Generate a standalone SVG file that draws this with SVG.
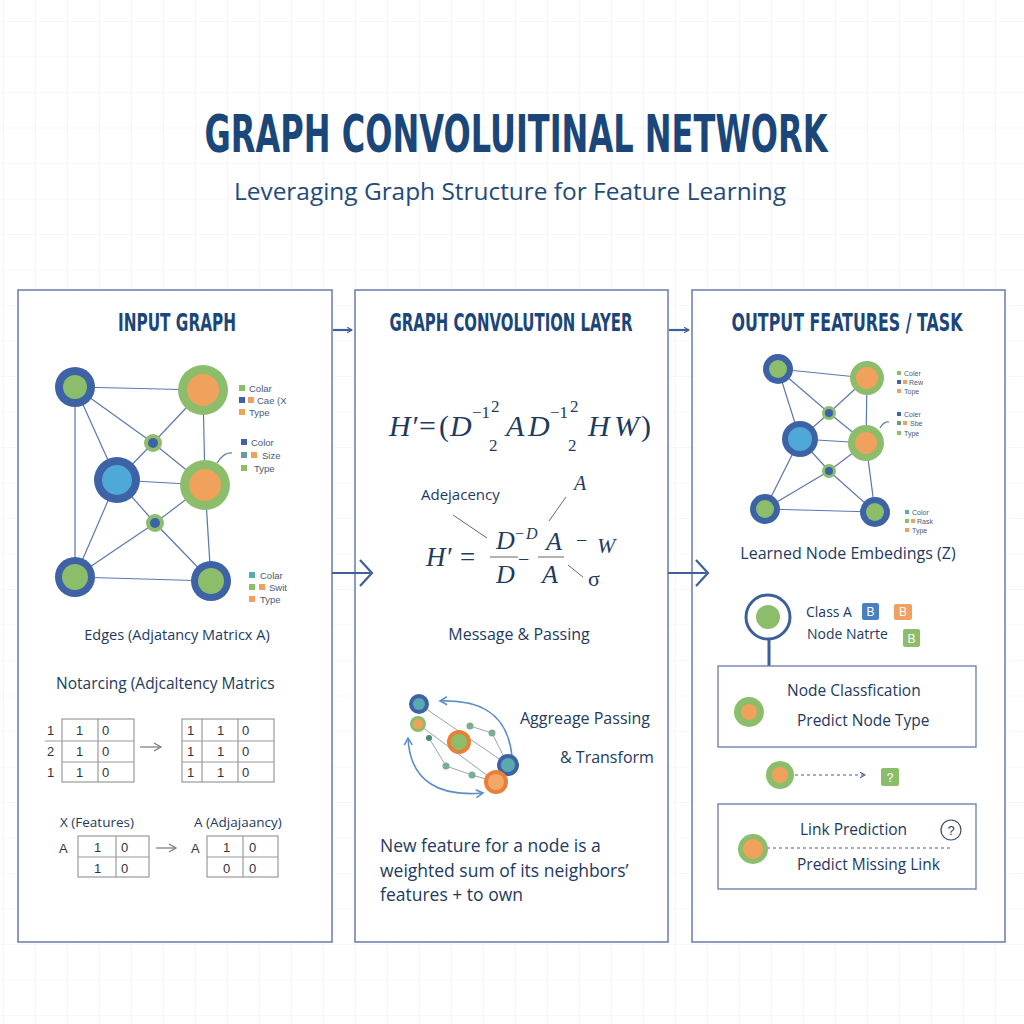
<svg xmlns="http://www.w3.org/2000/svg" width="1024" height="1024" viewBox="0 0 1024 1024">
<defs>
<pattern id="grid" x="3" y="21" width="32" height="35.5" patternUnits="userSpaceOnUse">
<path d="M0 0 H32 M0 0 V35.5" fill="none" stroke="#eef0f2" stroke-width="1.2"/>
</pattern>
<marker id="chev" viewBox="0 0 10 10" refX="8" refY="5" markerWidth="7" markerHeight="7" orient="auto" markerUnits="userSpaceOnUse">
<path d="M1 1 L8 5 L1 9" fill="none" stroke="#3d5f9a" stroke-width="1.5"/>
</marker>
<marker id="arcHead" viewBox="0 0 10 10" refX="8" refY="5" markerWidth="10" markerHeight="10" orient="auto-start-reverse" markerUnits="userSpaceOnUse">
<path d="M1 1 L8 5 L1 9" fill="none" stroke="#5b8fc8" stroke-width="1.6"/>
</marker>
<marker id="greyHead" viewBox="0 0 10 10" refX="8" refY="5" markerWidth="10" markerHeight="10" orient="auto" markerUnits="userSpaceOnUse">
<path d="M1 1 L8 5 L1 9" fill="none" stroke="#777" stroke-width="1.2"/>
</marker>
</defs>
<style>
.panel{fill:#fff;stroke:#7283b2;stroke-width:1.6}
.title{font-family:'DejaVu Sans Condensed','Roboto Condensed','Liberation Sans Narrow','DejaVu Sans',sans-serif;font-weight:bold;fill:#1b4679}
.sub{font-family:'Open Sans','Noto Sans','Liberation Sans',sans-serif;fill:#1f4a7c}
.lbl{font-family:'Open Sans','Noto Sans','Liberation Sans',sans-serif;fill:#233a5e}
.leg{font-family:'Liberation Sans','DejaVu Sans',sans-serif;fill:#4a5a78}
.mat{fill:none;stroke:#9a9a9a;stroke-width:1.2}
.mt{font-family:'Liberation Sans','DejaVu Sans',sans-serif;font-size:13px;fill:#333}
.math{font-family:'Liberation Serif','DejaVu Serif',serif;font-style:italic;fill:#1f3a5f}
.mathn{font-family:'Liberation Serif','DejaVu Serif',serif;fill:#1f3a5f}
.edge{stroke:#5a78b0;stroke-width:1.2;fill:none}
.blue{fill:#3d63a6}.green{fill:#8bbd6b}.orange{fill:#f0a25c}.lblue{fill:#4ea8d8}.teal{fill:#5aa8b0}
.conn{stroke:#3d5f9a;stroke-width:2.2;fill:none}
.thin{stroke:#555;stroke-width:0.9;fill:none}
</style>
<rect width="1024" height="1024" fill="#fff"/>
<rect width="1024" height="1024" fill="url(#grid)"/>

<g id="title">
<text class="title" x="516" y="152" font-size="52" text-anchor="middle" textLength="623" lengthAdjust="spacingAndGlyphs">GRAPH CONVOLUITINAL NETWORK</text>
<text class="sub" x="510" y="200" font-size="23" text-anchor="middle" textLength="552" lengthAdjust="spacingAndGlyphs">Leveraging Graph Structure for Feature Learning</text>
</g>

<g id="panel-input">
<rect class="panel" x="18" y="290" width="314" height="652"/>
<text class="title" x="177" y="331" font-size="24" text-anchor="middle" textLength="118" lengthAdjust="spacingAndGlyphs">INPUT GRAPH</text>
<g id="input-graph">
<g class="edge">
<line x1="75" y1="387" x2="203" y2="390"/>
<line x1="75" y1="387" x2="153" y2="443"/>
<line x1="75" y1="387" x2="117" y2="480"/>
<line x1="75" y1="387" x2="75" y2="577"/>
<line x1="203" y1="390" x2="153" y2="443"/>
<line x1="203" y1="390" x2="205" y2="485"/>
<line x1="153" y1="443" x2="117" y2="480"/>
<line x1="153" y1="443" x2="205" y2="485"/>
<line x1="117" y1="480" x2="205" y2="485"/>
<line x1="117" y1="480" x2="155" y2="523"/>
<line x1="117" y1="480" x2="75" y2="577"/>
<line x1="205" y1="485" x2="155" y2="523"/>
<line x1="205" y1="485" x2="211" y2="581"/>
<line x1="155" y1="523" x2="75" y2="577"/>
<line x1="155" y1="523" x2="211" y2="581"/>
<line x1="75" y1="577" x2="211" y2="581"/>
<path d="M217 463 Q224 452 232 453"/>
</g>
<circle class="blue" cx="75" cy="387" r="20"/><circle class="green" cx="75" cy="387" r="12"/>
<circle class="green" cx="203" cy="390" r="25"/><circle class="orange" cx="203" cy="390" r="16"/>
<circle class="green" cx="153" cy="443" r="9"/><circle class="blue" cx="153" cy="443" r="5"/>
<circle class="blue" cx="117" cy="480" r="23"/><circle class="lblue" cx="117" cy="480" r="15"/>
<circle class="green" cx="205" cy="485" r="25"/><circle class="orange" cx="205" cy="485" r="16"/>
<circle class="green" cx="155" cy="523" r="9"/><circle class="blue" cx="155" cy="523" r="5"/>
<circle class="blue" cx="75" cy="577" r="20"/><circle class="green" cx="75" cy="577" r="13"/>
<circle class="blue" cx="211" cy="581" r="20"/><circle class="green" cx="211" cy="581" r="13"/>
</g>
<g id="input-legends" font-size="9.5">
<rect class="green" x="239" y="385" width="6" height="6"/><text class="leg" x="249" y="392">Colar</text>
<rect class="blue" x="239" y="397" width="6" height="6"/><rect class="orange" x="248" y="397" width="6" height="6"/><text class="leg" x="257" y="404">Cae (X</text>
<rect class="orange" x="239" y="409" width="6" height="6"/><text class="leg" x="249" y="416">Type</text>
<rect class="blue" x="241" y="439" width="6" height="6"/><text class="leg" x="251" y="446">Color</text>
<rect fill="#6a9aa0" x="241" y="452" width="6" height="6"/><rect class="orange" x="251" y="452" width="6" height="6"/><text class="leg" x="262" y="459">Size</text>
<rect class="green" x="241" y="465" width="6" height="6"/><text class="leg" x="254" y="472">Type</text>
<rect class="teal" x="249" y="572" width="6" height="6"/><text class="leg" x="260" y="579">Colar</text>
<rect class="green" x="249" y="584" width="6" height="6"/><rect class="orange" x="259" y="584" width="6" height="6"/><text class="leg" x="269" y="591">Swit</text>
<rect class="orange" x="249" y="596" width="6" height="6"/><text class="leg" x="260" y="603">Type</text>
</g>
<text class="lbl" x="177" y="640" font-size="14.5" text-anchor="middle">Edges (Adjatancy Matricx A)</text>
<text class="lbl" x="56" y="689" font-size="15.5">Notarcing (Adjcaltency Matrics</text>
<g id="matrix-1">
<rect class="mat" x="62" y="719" width="72" height="63"/>
<line class="mat" x1="98" y1="719" x2="98" y2="782"/>
<line class="mat" x1="45" y1="741" x2="134" y2="741"/>
<line class="mat" x1="62" y1="762" x2="134" y2="762"/>
<text class="mt" x="47" y="735">1</text><text class="mt" x="76" y="735">1</text><text class="mt" x="102" y="735">0</text>
<text class="mt" x="47" y="756">2</text><text class="mt" x="76" y="756">1</text><text class="mt" x="102" y="756">0</text>
<text class="mt" x="47" y="777">1</text><text class="mt" x="76" y="777">1</text><text class="mt" x="102" y="777">0</text>
</g>
<line x1="140" y1="747" x2="161" y2="747" stroke="#777" stroke-width="1.2" marker-end="url(#greyHead)"/>
<g id="matrix-2">
<rect class="mat" x="182" y="719" width="92" height="63"/>
<line class="mat" x1="202" y1="719" x2="202" y2="782"/>
<line class="mat" x1="238" y1="719" x2="238" y2="782"/>
<line class="mat" x1="182" y1="741" x2="274" y2="741"/>
<line class="mat" x1="182" y1="762" x2="274" y2="762"/>
<text class="mt" x="187" y="735">1</text><text class="mt" x="217" y="735">1</text><text class="mt" x="242" y="735">0</text>
<text class="mt" x="187" y="756">1</text><text class="mt" x="217" y="756">1</text><text class="mt" x="242" y="756">0</text>
<text class="mt" x="187" y="777">1</text><text class="mt" x="217" y="777">1</text><text class="mt" x="242" y="777">0</text>
</g>
<text class="lbl" x="60" y="827" font-size="13.5">X (Features)</text>
<text class="lbl" x="194" y="827" font-size="13.5">A (Adjajaancy)</text>
<g id="matrix-3">
<text class="mt" x="59" y="853">A</text>
<rect class="mat" x="78" y="836" width="71" height="41"/>
<line class="mat" x1="116" y1="836" x2="116" y2="877"/>
<line class="mat" x1="78" y1="857" x2="149" y2="857"/>
<text class="mt" x="94" y="852">1</text><text class="mt" x="121" y="852">0</text>
<text class="mt" x="94" y="873">1</text><text class="mt" x="121" y="873">0</text>
</g>
<line x1="156" y1="848" x2="176" y2="848" stroke="#777" stroke-width="1.2" marker-end="url(#greyHead)"/>
<g id="matrix-4">
<text class="mt" x="191" y="853">A</text>
<rect class="mat" x="207" y="836" width="71" height="41"/>
<line class="mat" x1="243" y1="836" x2="243" y2="877"/>
<line class="mat" x1="207" y1="857" x2="278" y2="857"/>
<text class="mt" x="223" y="852">1</text><text class="mt" x="249" y="852">0</text>
<text class="mt" x="223" y="873">0</text><text class="mt" x="249" y="873">0</text>
</g>
</g>

<g id="panel-conv">
<rect class="panel" x="355" y="290" width="313" height="652"/>
<text class="title" x="511" y="331" font-size="24" text-anchor="middle" textLength="243" lengthAdjust="spacingAndGlyphs">GRAPH CONVOLUTION LAYER</text>
<g id="formula-1">
<text class="math" x="389" y="436" font-size="30">H′</text>
<text class="mathn" x="419" y="436" font-size="30">=</text>
<text class="mathn" x="439" y="436" font-size="30">(</text>
<text class="math" x="450" y="436" font-size="30">D</text>
<text class="mathn" x="472" y="418" font-size="17">−1</text>
<text class="mathn" x="491" y="412" font-size="17">2</text>
<text class="mathn" x="489" y="451" font-size="17">2</text>
<text class="math" x="506" y="436" font-size="30">A</text>
<text class="math" x="528" y="436" font-size="30">D</text>
<text class="mathn" x="550" y="418" font-size="17">−1</text>
<text class="mathn" x="570" y="412" font-size="17">2</text>
<text class="mathn" x="568" y="451" font-size="17">2</text>
<text class="math" x="588" y="436" font-size="30">H</text>
<text class="math" x="614" y="436" font-size="30">W</text>
<text class="mathn" x="641" y="436" font-size="30">)</text>
</g>
<g id="formula-2">
<text class="lbl" x="421" y="500" font-size="15">Adejacency</text>
<line class="thin" x1="453" y1="515" x2="487" y2="538"/>
<text class="math" x="574" y="490" font-size="20">A</text>
<line class="thin" x1="566" y1="497" x2="549" y2="521"/>
<text class="math" x="426" y="566" font-size="27">H′</text>
<text class="mathn" x="460" y="566" font-size="27">=</text>
<text class="math" x="496" y="549" font-size="26">D</text>
<text class="mathn" x="515" y="539" font-size="16">−</text>
<text class="math" x="526" y="539" font-size="16">D</text>
<line class="thin" x1="490" y1="557" x2="518" y2="557"/>
<text class="math" x="496" y="583" font-size="26">D</text>
<text class="mathn" x="518" y="566" font-size="20">−</text>
<text class="math" x="546" y="550" font-size="26">A</text>
<line class="thin" x1="538" y1="557" x2="564" y2="557"/>
<text class="math" x="542" y="583" font-size="26">A</text>
<text class="mathn" x="576" y="547" font-size="20">−</text>
<text class="math" x="597" y="553" font-size="22">W</text>
<line class="thin" x1="568" y1="565" x2="583" y2="577"/>
<text class="mathn" x="588" y="586" font-size="22">σ</text>
</g>
<text class="lbl" x="519" y="640" font-size="16" text-anchor="middle">Message &amp; Passing</text>
<g id="aggregation">
<path d="M512 757 C509 722 490 699 440 701" fill="none" stroke="#5b8fc8" stroke-width="1.6" marker-end="url(#arcHead)"/>
<path d="M408 738 C410 782 440 797 483 793" fill="none" stroke="#5b8fc8" stroke-width="1.6" marker-start="url(#arcHead)" marker-end="url(#arcHead)"/>
<g stroke="#8a9aaa" stroke-width="0.9" fill="none">
<line x1="419" y1="704" x2="508" y2="765"/>
<line x1="418" y1="724" x2="496" y2="782"/>
<line x1="429" y1="738" x2="446" y2="766"/>
<line x1="446" y1="766" x2="472" y2="775"/>
<line x1="472" y1="775" x2="496" y2="782"/>
<line x1="470" y1="726" x2="492" y2="733"/>
<line x1="492" y1="733" x2="508" y2="765"/>
</g>
<circle class="blue" cx="419" cy="704" r="10"/><circle class="teal" cx="419" cy="704" r="6"/>
<circle class="green" cx="418" cy="724" r="8"/><circle class="orange" cx="418" cy="724" r="5"/>
<circle fill="#4a8a70" cx="429" cy="738" r="3"/>
<circle fill="#7aae90" cx="470" cy="726" r="3.5"/>
<circle fill="#7aae90" cx="492" cy="733" r="3.5"/>
<circle fill="#7aae90" cx="446" cy="766" r="3.5"/>
<circle fill="#7aae90" cx="472" cy="775" r="3.5"/>
<circle fill="#e8803a" cx="459" cy="742" r="12"/><circle class="green" cx="459" cy="742" r="8"/>
<circle class="blue" cx="508" cy="765" r="11"/><circle class="teal" cx="508" cy="765" r="7"/>
<circle fill="#e8803a" cx="496" cy="782" r="12"/><circle fill="#f4a868" cx="496" cy="782" r="8"/>
</g>
<text class="lbl" x="520" y="724" font-size="16">Aggreage Passing</text>
<text class="lbl" x="560" y="763" font-size="16">&amp; Transform</text>
<text class="lbl" font-size="17.5"><tspan x="380" y="852">New feature for a node is a</tspan><tspan x="380" y="877">weighted sum of its neighbors’</tspan><tspan x="380" y="901">features + to own</tspan></text>
</g>

<g id="panel-output">
<rect class="panel" x="692" y="290" width="313" height="652"/>
<text class="title" x="847" y="331" font-size="24" text-anchor="middle" textLength="231" lengthAdjust="spacingAndGlyphs">OUTPUT FEATURES / TASK</text>
<g id="output-graph">
<g class="edge">
<line x1="778" y1="369" x2="867" y2="378"/>
<line x1="778" y1="369" x2="829" y2="413"/>
<line x1="778" y1="369" x2="800" y2="439"/>
<line x1="867" y1="378" x2="829" y2="413"/>
<line x1="867" y1="378" x2="866" y2="443"/>
<line x1="829" y1="413" x2="800" y2="439"/>
<line x1="829" y1="413" x2="866" y2="443"/>
<line x1="800" y1="439" x2="866" y2="443"/>
<line x1="800" y1="439" x2="829" y2="471"/>
<line x1="800" y1="439" x2="765" y2="509"/>
<line x1="866" y1="443" x2="829" y2="471"/>
<line x1="866" y1="443" x2="875" y2="512"/>
<line x1="829" y1="471" x2="765" y2="509"/>
<line x1="829" y1="471" x2="875" y2="512"/>
<line x1="765" y1="509" x2="875" y2="512"/>
<path d="M880 428 Q884 421 889 422"/>
</g>
<circle class="blue" cx="778" cy="369" r="15"/><circle class="green" cx="778" cy="369" r="9"/>
<circle class="green" cx="867" cy="378" r="17"/><circle class="orange" cx="867" cy="378" r="11"/>
<circle class="green" cx="829" cy="413" r="7"/><circle class="blue" cx="829" cy="413" r="4"/>
<circle class="blue" cx="800" cy="439" r="18"/><circle class="lblue" cx="800" cy="439" r="12"/>
<circle class="green" cx="866" cy="443" r="18"/><circle class="orange" cx="866" cy="443" r="11"/>
<circle class="green" cx="829" cy="471" r="7"/><circle class="blue" cx="829" cy="471" r="4"/>
<circle class="blue" cx="765" cy="509" r="15"/><circle class="green" cx="765" cy="509" r="9"/>
<circle class="blue" cx="875" cy="512" r="15"/><circle class="green" cx="875" cy="512" r="9"/>
</g>
<g id="output-legends" font-size="7">
<rect class="green" x="897" y="371" width="4" height="4"/><text class="leg" x="904" y="375.5">Coler</text>
<rect class="blue" x="897" y="380" width="4" height="4"/><rect class="orange" x="903" y="380" width="4" height="4"/><text class="leg" x="909" y="384.5">Rew</text>
<rect class="orange" x="897" y="389" width="4" height="4"/><text class="leg" x="904" y="393.5">Tope</text>
<rect class="blue" x="897" y="412" width="4" height="4"/><text class="leg" x="904" y="416.5">Coler</text>
<rect fill="#6a9a80" x="897" y="421" width="4" height="4"/><rect class="orange" x="903" y="421" width="4" height="4"/><text class="leg" x="910" y="425.5">Sbe</text>
<rect class="green" x="897" y="431" width="4" height="4"/><text class="leg" x="904" y="435.5">Type</text>
<rect class="teal" x="905" y="510" width="4" height="4"/><text class="leg" x="912" y="514.5">Color</text>
<rect class="green" x="905" y="519" width="4" height="4"/><rect class="orange" x="911" y="519" width="4" height="4"/><text class="leg" x="917" y="523.5">Rask</text>
<rect class="orange" x="905" y="528" width="4" height="4"/><text class="leg" x="912" y="532.5">Type</text>
</g>
<text class="lbl" x="848" y="559" font-size="16" text-anchor="middle">Learned Node Embedings (Z)</text>
<g id="class-node">
<circle cx="768" cy="617" r="22" fill="#fff" stroke="#3d5f9a" stroke-width="3"/>
<circle class="green" cx="768" cy="617" r="12"/>
<line x1="769" y1="640" x2="769" y2="666" stroke="#3d5f9a" stroke-width="3"/>
<text class="lbl" x="806" y="617" font-size="14">Class A</text>
<rect x="862" y="603" width="17" height="17" rx="2" fill="#4a80c0"/><text x="870.5" y="616" font-family="Liberation Sans,sans-serif" font-size="12" fill="#fff" text-anchor="middle">B</text>
<rect x="894" y="604" width="18" height="16" rx="2" fill="#f0a060"/><text x="903" y="616" font-family="Liberation Sans,sans-serif" font-size="12" fill="#fff" text-anchor="middle">B</text>
<text class="lbl" x="807" y="639" font-size="14">Node Natrte</text>
<rect x="903" y="629" width="17" height="18" rx="2" fill="#8bbd6b"/><text x="911.5" y="643" font-family="Liberation Sans,sans-serif" font-size="12" fill="#fff" text-anchor="middle">B</text>
</g>
<g id="node-classification">
<rect x="718" y="666" width="258" height="81" fill="#fff" stroke="#7283b2" stroke-width="1.4"/>
<circle class="green" cx="749" cy="712" r="15"/><circle class="orange" cx="749" cy="712" r="8"/>
<text class="lbl" x="787" y="696" font-size="15.5">Node Classfication</text>
<text class="lbl" x="797" y="726" font-size="15.5">Predict Node Type</text>
</g>
<g id="mid-link">
<circle class="green" cx="780" cy="775" r="14"/><circle class="orange" cx="780" cy="775" r="8"/>
<line x1="795" y1="775" x2="865" y2="775" stroke="#4a5a80" stroke-width="1.2" stroke-dasharray="3,3" marker-end="url(#chev)"/>
<rect x="881" y="768" width="18" height="18" rx="2" fill="#8bbd6b"/><text x="890" y="781.5" font-family="Liberation Sans,sans-serif" font-size="12" fill="#fff" text-anchor="middle">?</text>
</g>
<g id="link-prediction">
<rect x="718" y="804" width="258" height="85" fill="#fff" stroke="#7283b2" stroke-width="1.4"/>
<line x1="767" y1="848" x2="952" y2="848" stroke="#4a5a80" stroke-width="1.2" stroke-dasharray="3,3"/>
<circle class="green" cx="753" cy="849" r="15"/><circle class="orange" cx="753" cy="849" r="10"/>
<circle cx="951" cy="830" r="10" fill="#fff" stroke="#3a4a6a" stroke-width="1.2"/>
<text x="951" y="835" font-family="Liberation Sans,sans-serif" font-size="13" fill="#233a5e" text-anchor="middle">?</text>
<text class="lbl" x="800" y="835" font-size="15.5">Link Prediction</text>
<text class="lbl" x="797" y="870" font-size="15.5">Predict Missing Link</text>
</g>
</g>

<g id="connectors">
<line class="conn" x1="333" y1="330" x2="352" y2="330" marker-end="url(#chev)"/>
<line class="conn" x1="669" y1="330" x2="689" y2="330" marker-end="url(#chev)"/>
<path class="conn" d="M332 573 H370 M360 560 L372 573 L360 586" stroke-width="3"/>
<path class="conn" d="M668 573 H706 M696 560 L708 573 L696 586" stroke-width="3"/>
</g>
</svg>
